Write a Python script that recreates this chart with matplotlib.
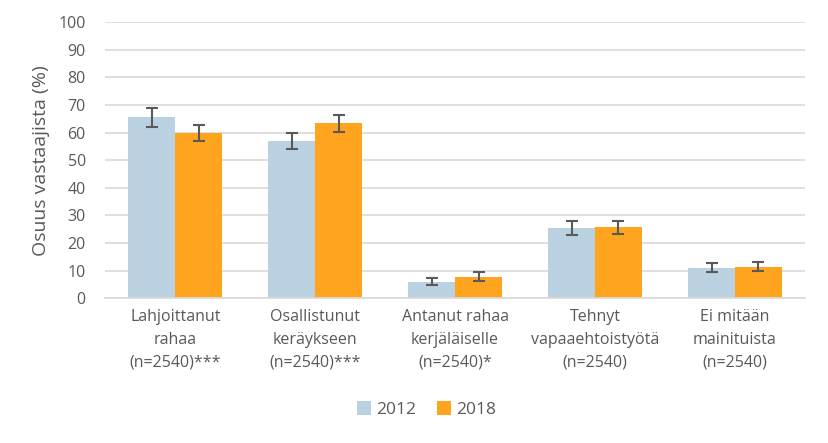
import numpy as np
import matplotlib.pyplot as plt

plt.rcParams['font.family'] = ['Open Sans', 'DejaVu Sans']

categories = ['Lahjoittanut\nrahaa\n(n=2540)***', 'Osallistunut\nkeräykseen\n(n=2540)***',
              'Antanut rahaa\nkerjäläiselle\n(n=2540)*', 'Tehnyt\nvapaaehtoistyötä\n(n=2540)',
              'Ei mitään\nmainituista\n(n=2540)']
values_2012 = [65.5, 57.0, 6.0, 25.5, 11.0]
values_2018 = [60.0, 63.3, 7.8, 25.6, 11.4]
err_2012 = [3.4, 3.0, 1.3, 2.6, 1.6]
err_2018 = [2.9, 3.0, 1.5, 2.5, 1.7]

c2012 = '#b9d1e0'
c2018 = '#ffa41f'
grey = '#595959'

fig = plt.figure(figsize=(8.29, 4.43), dpi=100)
ax = fig.add_axes([0.127, 0.327, 0.844, 0.623])

x = np.arange(len(categories))
w = 0.335
ekw = dict(ecolor=grey, elinewidth=1.5, capsize=4, capthick=1.5)
ax.bar(x - w / 2, values_2012, w, color=c2012, yerr=err_2012, error_kw=ekw, label='2012', zorder=2)
ax.bar(x + w / 2, values_2018, w, color=c2018, yerr=err_2018, error_kw=ekw, label='2018', zorder=2)

ax.set_xlim(-0.5, len(categories) - 0.5)
ax.set_ylim(0, 100)
ax.set_yticks(range(0, 101, 10))
ax.grid(axis='y', color='#d9d9d9', linewidth=1.2, zorder=0)
ax.set_axisbelow(True)
for s in ['top', 'right', 'left']:
    ax.spines[s].set_visible(False)
ax.spines['bottom'].set_color('#d9d9d9')
ax.spines['bottom'].set_linewidth(1.2)
ax.tick_params(axis='both', length=0, colors=grey, labelsize=11.5)
ax.tick_params(axis='y', pad=14)
ax.tick_params(axis='x', pad=8)
ax.set_xticks(x)
ax.set_xticklabels(categories, linespacing=1.55)
ax.set_ylabel('Osuus vastaajista (%)', color=grey, fontsize=14, labelpad=6)

fig.legend(loc='center', bbox_to_anchor=(0.515, 0.075), ncol=2, frameon=False,
           fontsize=12.5, labelcolor=grey, handlelength=0.8, handleheight=0.8,
           handletextpad=0.3, columnspacing=1.2)

fig.savefig('out.png', dpi=100)
